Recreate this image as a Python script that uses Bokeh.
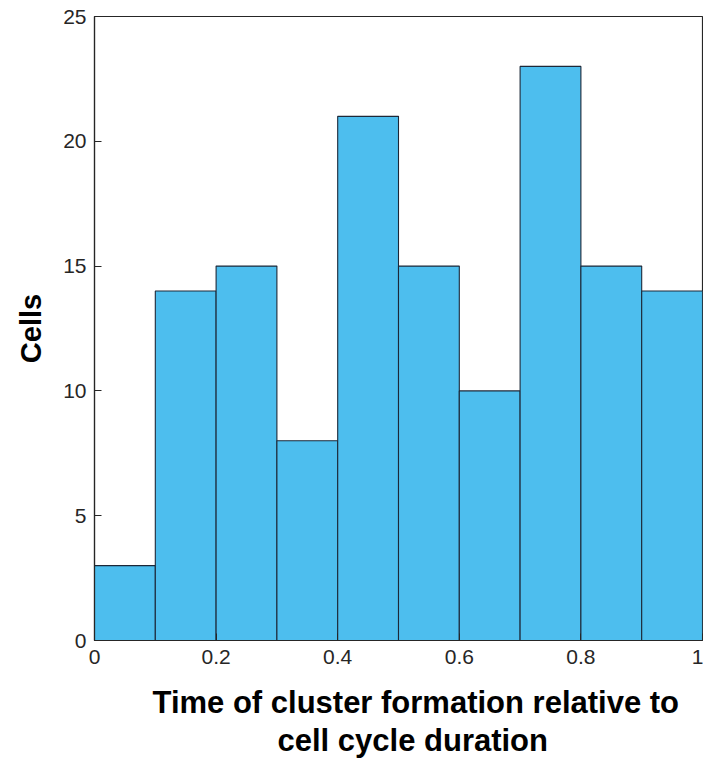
from bokeh.plotting import figure
from bokeh.models import FixedTicker, Title, ColumnDataSource
from bokeh.embed import file_html
from bokeh.resources import INLINE

# --- data ---
bin_left = [0.0, 0.1, 0.2, 0.3, 0.4, 0.5, 0.6, 0.7, 0.8, 0.9]
bin_right = [0.1, 0.2, 0.3, 0.4, 0.5, 0.6, 0.7, 0.8, 0.9, 1.0]
cells = [3, 14, 15, 8, 21, 15, 10, 23, 15, 14]
x_ticks = [0, 0.2, 0.4, 0.6, 0.8, 1.0]
x_tick_labels = ["0", "0.2", "0.4", "0.6", "0.8", "1"]
y_ticks = [0, 5, 10, 15, 20, 25]
y_tick_labels = ["0", "5", "10", "15", "20", "25"]
x_label_lines = ["Time of cluster formation relative to", "cell cycle duration"]
y_label = "Cells"

FONT = "Liberation Sans"
AX = "#262626"

p = figure(width=703, height=760, output_backend="svg", toolbar_location=None,
           x_range=(0, 1), y_range=(0, 25),
           min_border_left=94, min_border_right=1, min_border_top=16, min_border_bottom=120)

src = ColumnDataSource(dict(left=bin_left, right=bin_right, top=cells, bottom=[0] * len(cells)))
p.quad(left="left", right="right", top="top", bottom="bottom", source=src,
       fill_color="#4DBEEE", line_color="#1c2838", line_width=1.1)

p.xgrid.visible = False
p.ygrid.visible = False
p.outline_line_color = AX
p.outline_line_width = 1.2
p.background_fill_color = "white"
p.border_fill_color = "white"

for ax in (p.xaxis[0], p.yaxis[0]):
    ax.axis_line_color = AX
    ax.axis_line_width = 1.2
    ax.major_tick_line_color = AX
    ax.major_tick_in = 7
    ax.major_tick_out = 0
    ax.minor_tick_line_color = None
    ax.major_label_text_font = FONT
    ax.major_label_text_font_size = "21px"
    ax.major_label_text_color = AX

p.xaxis[0].ticker = FixedTicker(ticks=x_ticks)
p.xaxis[0].major_label_overrides = {t: l for t, l in zip(x_ticks, x_tick_labels)}
p.xaxis[0].major_label_standoff = 9

p.yaxis[0].ticker = FixedTicker(ticks=y_ticks)
p.yaxis[0].major_label_overrides = {t: l for t, l in zip(y_ticks, y_tick_labels)}
p.yaxis[0].major_label_standoff = 8

p.yaxis[0].axis_label = y_label
p.yaxis[0].axis_label_text_font = FONT
p.yaxis[0].axis_label_text_font_style = "bold"
p.yaxis[0].axis_label_text_font_size = "29px"
p.yaxis[0].axis_label_text_color = "black"
p.yaxis[0].axis_label_standoff = 13

# two-line x label, slightly right of the frame centre as in the reference
line_offsets = [58, 183]
line_standoffs = [33, -31]
for line, off, so in zip(x_label_lines, line_offsets, line_standoffs):
    p.add_layout(Title(text=line, align="left", offset=off,
                       text_font=FONT, text_font_style="bold",
                       text_font_size="31px", text_color="black",
                       standoff=so), "below")

open("out.html", "w").write(file_html(p, INLINE))
